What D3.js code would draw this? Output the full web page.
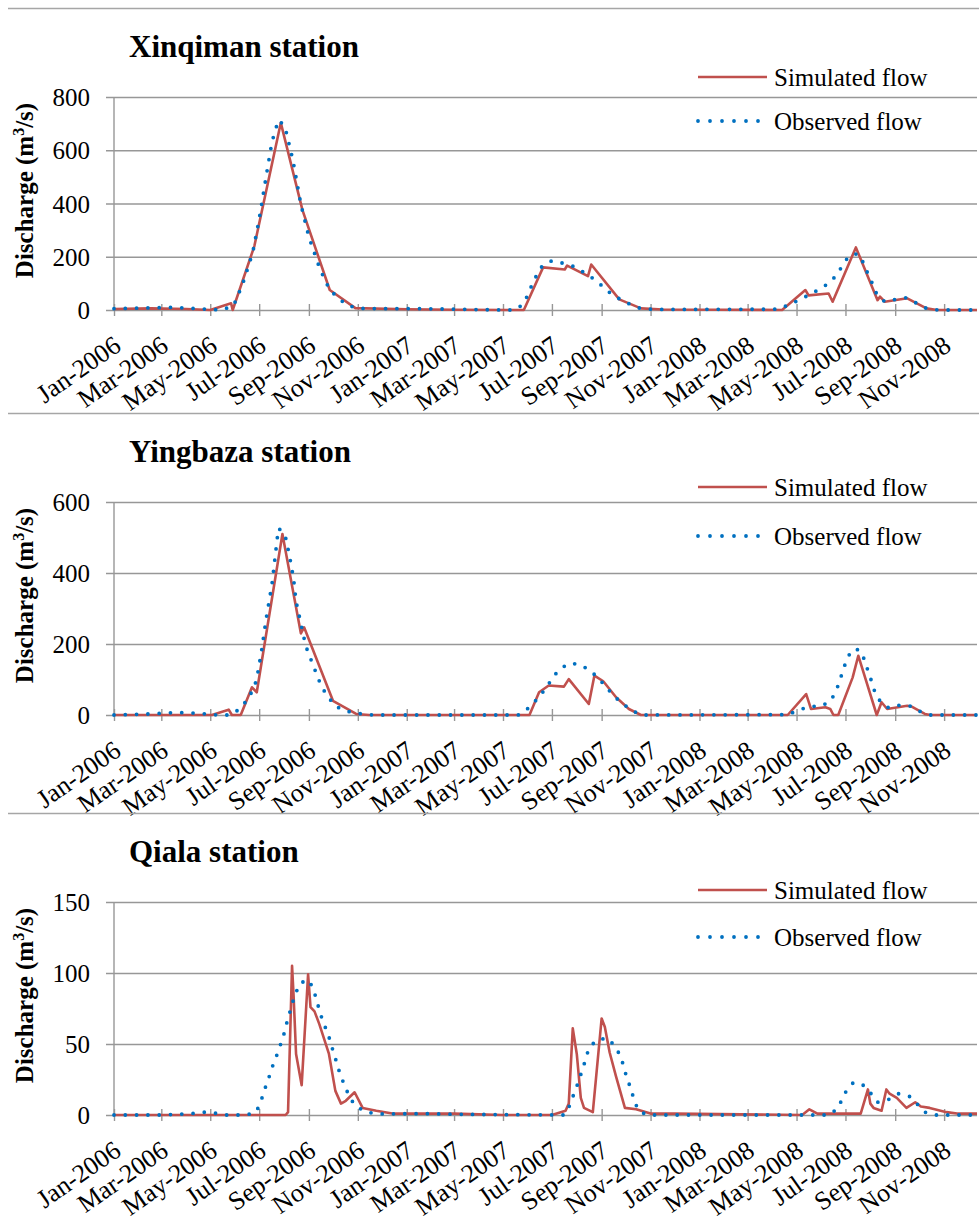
<!DOCTYPE html>
<html>
<head>
<meta charset="utf-8">
<script src="https://cdn.jsdelivr.net/npm/d3@7"></script>
<style>
  body { margin: 0; background: #fff; }
  svg { display: block; }
  svg text { font-family: "Liberation Serif", "Times New Roman", Times, "DejaVu Serif", serif !important; fill: #000; }
</style>
</head>
<body>
<svg id="chart" width="979" height="1220"></svg>
<script>
// ---- data (m3/s) ----
const seriesNames = ["Simulated flow", "Observed flow"];

const xqSimDates = ["2006-01-01", "2006-02-16", "2006-04-01", "2006-05-01", "2006-05-27", "2006-05-29", "2006-06-25", "2006-07-28", "2006-08-24", "2006-09-27", "2006-10-29", "2007-01-01", "2007-03-01", "2007-05-27", "2007-06-20", "2007-07-17", "2007-07-20", "2007-08-15", "2007-08-19", "2007-09-23", "2007-10-20", "2007-11-16", "2008-04-13", "2008-05-12", "2008-05-16", "2008-06-10", "2008-06-15", "2008-07-14", "2008-08-10", "2008-08-13", "2008-08-19", "2008-09-16", "2008-10-10", "2008-10-23", "2008-12-12"];
const xqSimValues = [4, 6, 4, 0, 25, 0, 240, 703, 375, 75, 7, 3, 1, 0, 160, 152, 167, 127, 171, 40, 6, 2, 0, 75, 55, 62, 31, 235, 37, 50, 31, 44, 6, 0, 0];

const xqObsDates = ["2006-01-01", "2006-02-15", "2006-03-15", "2006-04-15", "2006-05-15", "2006-05-30", "2006-06-10", "2006-06-23", "2006-07-01", "2006-07-10", "2006-07-17", "2006-07-25", "2006-08-02", "2006-08-12", "2006-08-22", "2006-09-01", "2006-09-15", "2006-09-27", "2006-10-17", "2006-10-31", "2006-12-01", "2007-01-15", "2007-03-01", "2007-05-01", "2007-05-15", "2007-05-25", "2007-06-01", "2007-06-06", "2007-06-12", "2007-06-19", "2007-07-01", "2007-07-16", "2007-07-30", "2007-08-12", "2007-08-23", "2007-09-03", "2007-09-13", "2007-09-26", "2007-10-08", "2007-10-21", "2007-11-15", "2008-04-08", "2008-04-21", "2008-05-04", "2008-05-16", "2008-05-29", "2008-06-10", "2008-06-20", "2008-06-27", "2008-07-05", "2008-07-16", "2008-07-24", "2008-07-29", "2008-08-04", "2008-08-09", "2008-08-19", "2008-09-02", "2008-09-15", "2008-09-28", "2008-10-10", "2008-10-25", "2008-12-12"];
const xqObsValues = [5, 8, 10, 5, 0, 16, 94, 216, 341, 507, 632, 714, 690, 564, 397, 274, 152, 75, 21, 6, 5, 5, 3, 0, 0, 19, 56, 94, 131, 166, 185, 175, 162, 137, 115, 87, 60, 37, 19, 4, 2, 3, 19, 37, 56, 77, 100, 131, 166, 202, 212, 175, 135, 97, 59, 31, 40, 46, 25, 6, 0, 0];

const ybSimDates = ["2006-01-01", "2006-05-03", "2006-05-24", "2006-05-28", "2006-06-08", "2006-06-22", "2006-06-28", "2006-07-30", "2006-08-22", "2006-08-26", "2006-10-01", "2006-10-30", "2006-11-15", "2007-06-03", "2007-06-15", "2007-06-27", "2007-07-16", "2007-07-22", "2007-08-16", "2007-08-23", "2007-09-03", "2007-09-19", "2007-10-05", "2007-10-20", "2008-04-20", "2008-05-13", "2008-05-19", "2008-06-06", "2008-06-12", "2008-06-16", "2008-06-22", "2008-07-10", "2008-07-17", "2008-08-09", "2008-08-15", "2008-08-22", "2008-09-16", "2008-09-21", "2008-10-08", "2008-10-15", "2008-12-12"];
const ybSimValues = [0, 0, 15, 0, 0, 78, 64, 510, 230, 247, 40, 3, 0, 0, 64, 83, 80, 101, 31, 111, 95, 50, 17, 0, 0, 59, 17, 22, 17, 0, 0, 106, 167, 0, 36, 17, 26, 24, 3, 0, 0];

const ybObsDates = ["2006-01-01", "2006-02-15", "2006-03-20", "2006-04-15", "2006-05-10", "2006-05-25", "2006-06-02", "2006-06-12", "2006-06-20", "2006-06-26", "2006-06-29", "2006-07-04", "2006-07-10", "2006-07-17", "2006-07-25", "2006-08-02", "2006-08-08", "2006-08-13", "2006-08-16", "2006-08-22", "2006-08-28", "2006-09-07", "2006-09-17", "2006-10-03", "2006-10-16", "2006-10-30", "2006-11-20", "2007-05-20", "2007-05-27", "2007-06-07", "2007-06-16", "2007-06-25", "2007-07-02", "2007-07-11", "2007-07-23", "2007-08-05", "2007-08-18", "2007-08-29", "2007-09-07", "2007-09-16", "2007-09-26", "2007-10-08", "2007-10-20", "2008-04-20", "2008-05-04", "2008-05-17", "2008-05-31", "2008-06-12", "2008-06-19", "2008-06-24", "2008-06-28", "2008-07-03", "2008-07-09", "2008-07-18", "2008-07-25", "2008-07-29", "2008-08-03", "2008-08-07", "2008-08-14", "2008-08-24", "2008-09-07", "2008-09-20", "2008-10-02", "2008-10-15", "2008-12-12"];
const ybObsValues = [0, 3, 7, 5, 0, 0, 9, 31, 57, 87, 115, 181, 275, 369, 526, 510, 446, 383, 320, 258, 195, 136, 78, 26, 12, 5, 0, 0, 8, 31, 54, 80, 106, 130, 146, 142, 125, 101, 78, 54, 34, 14, 0, 1, 14, 24, 25, 38, 66, 97, 127, 158, 184, 184, 155, 125, 92, 62, 36, 20, 28, 25, 10, 0, 0];

const qlSimDates = ["2006-01-01", "2006-08-03", "2006-08-06", "2006-08-11", "2006-08-13", "2006-08-16", "2006-08-23", "2006-08-31", "2006-09-03", "2006-09-08", "2006-09-14", "2006-09-26", "2006-10-04", "2006-10-11", "2006-10-17", "2006-10-28", "2006-11-07", "2006-11-24", "2006-12-14", "2007-03-01", "2007-05-01", "2007-07-01", "2007-07-18", "2007-07-22", "2007-07-27", "2007-08-01", "2007-08-06", "2007-08-10", "2007-08-21", "2007-09-01", "2007-09-05", "2007-09-11", "2007-09-19", "2007-09-30", "2007-10-14", "2007-11-01", "2007-12-01", "2008-05-08", "2008-05-17", "2008-05-27", "2008-06-15", "2008-07-20", "2008-07-29", "2008-08-01", "2008-08-05", "2008-08-15", "2008-08-21", "2008-08-25", "2008-09-03", "2008-09-15", "2008-09-26", "2008-10-03", "2008-10-14", "2008-11-04", "2008-11-17", "2008-12-12"];
const qlSimValues = [0, 0, 2, 105, 83, 43, 21, 99, 76, 73, 64, 43, 17, 8, 10, 16, 5, 3, 1, 1, 0, 0, 3, 8, 61, 43, 12, 5, 2, 68, 62, 44, 27, 5, 4, 1, 1, 0, 4, 1, 1, 1, 18, 8, 5, 3, 18, 15, 12, 5, 9, 6, 5, 2, 1, 1];

const qlObsDates = ["2006-01-01", "2006-03-01", "2006-04-08", "2006-04-22", "2006-05-05", "2006-05-20", "2006-06-15", "2006-06-27", "2006-07-03", "2006-07-07", "2006-07-12", "2006-07-16", "2006-07-21", "2006-07-26", "2006-07-31", "2006-08-03", "2006-08-07", "2006-08-11", "2006-08-15", "2006-08-21", "2006-09-01", "2006-09-07", "2006-09-11", "2006-09-15", "2006-09-19", "2006-09-25", "2006-09-29", "2006-10-03", "2006-10-07", "2006-10-11", "2006-10-17", "2006-10-22", "2006-10-30", "2006-11-12", "2006-11-26", "2007-01-20", "2007-03-01", "2007-07-15", "2007-07-20", "2007-07-25", "2007-07-30", "2007-08-04", "2007-08-08", "2007-08-12", "2007-08-16", "2007-08-26", "2007-09-09", "2007-09-18", "2007-09-25", "2007-09-29", "2007-10-03", "2007-10-08", "2007-10-11", "2007-10-17", "2007-10-28", "2008-06-10", "2008-06-20", "2008-06-26", "2008-07-02", "2008-07-11", "2008-07-23", "2008-08-02", "2008-08-10", "2008-08-24", "2008-09-05", "2008-09-19", "2008-09-28", "2008-10-08", "2008-10-20", "2008-12-12"];
const qlObsValues = [0, 0, 1, 2, 1.5, 0, 0, 2, 9, 17, 24, 32, 39, 47, 55, 62, 70, 78, 85, 93, 95, 88, 80, 72, 65, 57, 49, 42, 34, 27, 19, 12, 6, 2, 0.7, 1, 0.5, 0, 2, 10, 17, 25, 32, 39, 47, 53, 54, 48, 41, 33, 25, 18, 11, 3, 0, 0, 4, 10, 17, 23, 21, 15, 9, 11, 15, 13, 8, 2, 0, 0];

const stationNames = ["Xinqiman station", "Yingbaza station", "Qiala station"];
const yMaxes = [800, 600, 150];
const yTickSteps = [200, 200, 50];

// ---- layout ----
const svg = d3.select("#chart");
const parse = d3.timeParse("%Y-%m-%d");
const fmt = d3.timeFormat("%b-%Y");
const serif = '"Liberation Serif", "Times New Roman", Times, "DejaVu Serif", serif';
const simColor = "#c0504d";
const obsColor = "#0070c0";
const gridColor = "#979797";

const x = d3.scaleTime()
  .domain([parse("2006-01-01"), parse("2008-12-12")])
  .range([114, 977]);
const xTicks = d3.timeMonth.every(2).range(parse("2006-01-01"), parse("2008-12-01"));

const panels = [
  { top: 0, sim: [xqSimDates, xqSimValues], obs: [xqObsDates, xqObsValues], leg: [77, 121] },
  { top: 405, sim: [ybSimDates, ybSimValues], obs: [ybObsDates, ybObsValues], leg: [487, 536] },
  { top: 805, sim: [qlSimDates, qlSimValues], obs: [qlObsDates, qlObsValues], leg: [890, 937] },
];

panels.forEach((p, i) => {
  const g = svg.append("g").attr("font-family", serif);
  const plotTop = p.top + 97;
  const plotBottom = p.top + 310;

  // panel separator
  g.append("line")
    .attr("x1", 8).attr("x2", 979)
    .attr("y1", p.top + 8.5).attr("y2", p.top + 8.5)
    .attr("stroke", "#a6a6a6").attr("stroke-width", 1.5);

  // title
  g.append("text")
    .attr("x", 129).attr("y", p.top + 57)
    .attr("font-size", 31).attr("font-weight", "bold")
    .text(stationNames[i]);

  const y = d3.scaleLinear().domain([0, yMaxes[i]]).range([plotBottom, plotTop]);
  const yTicks = d3.range(0, yMaxes[i] + 1, yTickSteps[i]);

  // gridlines + y axis
  const yAxis = d3.axisLeft(y).tickValues(yTicks).tickSize(-(977 - 106)).tickPadding(0);
  const ya = g.append("g").attr("transform", "translate(106,0)").call(yAxis);
  ya.attr("font-family", serif);
  ya.select(".domain").remove();
  ya.selectAll(".tick line").attr("stroke", gridColor).attr("stroke-width", 1.4);
  ya.selectAll(".tick text")
    .attr("x", -16).attr("dy", "0.34em")
    .attr("font-size", 25);

  g.append("line")
    .attr("x1", 114).attr("x2", 114)
    .attr("y1", plotTop).attr("y2", plotBottom)
    .attr("stroke", gridColor).attr("stroke-width", 1.4);

  // x axis ticks and labels
  const xAxis = d3.axisBottom(x).tickValues(xTicks).tickFormat(fmt).tickSize(6);
  const xa = g.append("g").attr("transform", `translate(0,${plotBottom})`).call(xAxis);
  xa.attr("font-family", serif);
  xa.select(".domain").remove();
  xa.selectAll(".tick line").attr("y1", -6).attr("stroke", gridColor).attr("stroke-width", 1.4);
  xa.selectAll(".tick text")
    .attr("y", 0).attr("dy", "0.34em")
    .attr("text-anchor", "end")
    .attr("transform", "translate(3,32) rotate(-35)")
    .attr("font-size", 26);

  // y axis title
  const yt = g.append("text")
    .attr("transform", `translate(33,${(plotTop + plotBottom) / 2 - 13}) rotate(-90)`)
    .attr("text-anchor", "middle")
    .attr("font-size", 25).attr("font-weight", "bold");
  yt.append("tspan").text("Discharge (m");
  yt.append("tspan").attr("dy", -9).attr("font-size", 16).text("3");
  yt.append("tspan").attr("dy", 9).text("/s)");

  // series
  const line = d3.line().x((d) => x(d[0])).y((d) => y(d[1]));
  const simPts = p.sim[0].map((d, k) => [parse(d), p.sim[1][k]]);
  const obsPts = p.obs[0].map((d, k) => [parse(d), p.obs[1][k]]);

  g.append("path").datum(simPts)
    .attr("d", line).attr("fill", "none")
    .attr("stroke", simColor).attr("stroke-width", 2.6)
    .attr("stroke-linejoin", "round");

  g.append("path").datum(obsPts)
    .attr("d", line).attr("fill", "none")
    .attr("stroke", obsColor).attr("stroke-width", 3.8)
    .attr("stroke-linecap", "round")
    .attr("stroke-dasharray", "0 11.3");

  // legend
  g.append("line")
    .attr("x1", 698).attr("x2", 767)
    .attr("y1", p.leg[0]).attr("y2", p.leg[0])
    .attr("stroke", simColor).attr("stroke-width", 2.6);
  g.append("line")
    .attr("x1", 698).attr("x2", 760)
    .attr("y1", p.leg[1]).attr("y2", p.leg[1])
    .attr("stroke", obsColor).attr("stroke-width", 3.8)
    .attr("stroke-linecap", "round")
    .attr("stroke-dasharray", "0 12");
  seriesNames.forEach((name, k) => {
    g.append("text")
      .attr("x", 774).attr("y", p.leg[k]).attr("dy", "0.34em")
      .attr("font-size", 25)
      .text(name);
  });
});
</script>
</body>
</html>
